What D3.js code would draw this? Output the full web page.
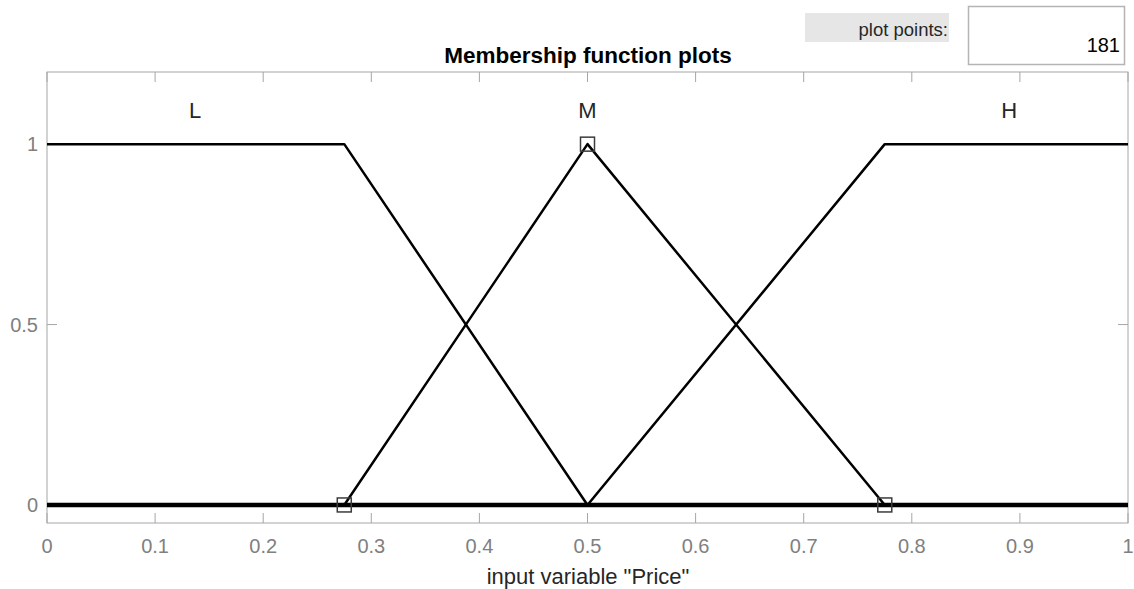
<!DOCTYPE html>
<html><head><meta charset="utf-8">
<script src="https://cdn.jsdelivr.net/npm/d3@7"></script>
<style>body{margin:0;background:#fff;}svg{display:block;font-family:"Liberation Sans",Arial,sans-serif;}</style>
</head><body><svg id="c" width="1134" height="589"></svg>
<script>
const mfNames = ["L", "M", "H"];
const mfLabelX = [0.137, 0.5, 0.89];
const mfX = [[0, 0.275, 0.5, 1], [0, 0.275, 0.5, 0.775, 1], [0, 0.5, 0.775, 1]];
const mfY = [[1, 1, 0, 0], [0, 0, 1, 0, 0], [0, 0, 1, 1]];
const markerX = [0.275, 0.5, 0.775];
const markerY = [0, 1, 0];
const xTicks = [0, 0.1, 0.2, 0.3, 0.4, 0.5, 0.6, 0.7, 0.8, 0.9, 1];
const yTicks = [0, 0.5, 1];
const plotPoints = "181";

const svg = d3.select("#c");
const L = 47, R = 1128, T = 72, B = 523;
const x = d3.scaleLinear().domain([0, 1]).range([L, R]);
const y = d3.scaleLinear().domain([-0.05, 1.2]).range([B, T]);
const axisCol = "#a6a6a6", tickTxt = "#808080";

// top-right controls
svg.append("rect").attr("x", 805).attr("y", 13).attr("width", 144).attr("height", 29).attr("fill", "#e6e6e6");
svg.append("text").attr("x", 948).attr("y", 36).attr("text-anchor", "end").attr("font-size", 18.5).attr("fill", "#262626").text("plot points:");
svg.append("rect").attr("x", 968.5).attr("y", 6.5).attr("width", 156).attr("height", 58).attr("fill", "#fff").attr("stroke", "#b4b4b4").attr("stroke-width", 1.5);
svg.append("text").attr("x", 1120).attr("y", 52).attr("text-anchor", "end").attr("font-size", 20).attr("fill", "#000").text(plotPoints);

// title
svg.append("text").attr("x", 588).attr("y", 63).attr("text-anchor", "middle").attr("font-size", 22.5).attr("font-weight", "bold").attr("fill", "#000").text("Membership function plots");

// axes box
svg.append("rect").attr("x", L).attr("y", T).attr("width", R - L).attr("height", B - T).attr("fill", "none").attr("stroke", axisCol).attr("stroke-width", 1);

const tl = 10;
const gx = svg.append("g");
xTicks.forEach(t => {
  gx.append("line").attr("x1", x(t)).attr("x2", x(t)).attr("y1", B).attr("y2", B - tl).attr("stroke", axisCol);
  gx.append("line").attr("x1", x(t)).attr("x2", x(t)).attr("y1", T).attr("y2", T + tl).attr("stroke", axisCol);
  gx.append("text").attr("x", x(t)).attr("y", 553).attr("text-anchor", "middle").attr("font-size", 20).attr("fill", tickTxt).text(d3.format("")(t));
});
yTicks.forEach(t => {
  gx.append("line").attr("x1", L).attr("x2", L + tl).attr("y1", y(t)).attr("y2", y(t)).attr("stroke", axisCol);
  gx.append("line").attr("x1", R).attr("x2", R - tl).attr("y1", y(t)).attr("y2", y(t)).attr("stroke", axisCol);
  gx.append("text").attr("x", 38).attr("y", y(t) + 7).attr("text-anchor", "end").attr("font-size", 20).attr("fill", tickTxt).text(d3.format("")(t));
});

svg.append("text").attr("x", 588).attr("y", 584).attr("text-anchor", "middle").attr("font-size", 22).attr("fill", "#262626").text('input variable "Price"');

// MF curves
const line = d3.line().x(d => x(d[0])).y(d => y(d[1]));
svg.append("line").attr("x1", x(0)).attr("x2", x(1)).attr("y1", y(0)).attr("y2", y(0)).attr("stroke", "#000").attr("stroke-width", 4.5);
mfX.forEach((xs, i) => {
  const pts = xs.map((v, j) => [v, mfY[i][j]]);
  svg.append("path").attr("d", line(pts)).attr("fill", "none").attr("stroke", "#000").attr("stroke-width", 2.5).attr("stroke-linejoin", "round");
  svg.append("text").attr("x", x(mfLabelX[i])).attr("y", 118).attr("text-anchor", "middle").attr("font-size", 22).attr("fill", "#262626").text(mfNames[i]);
});

// markers
markerX.forEach((v, i) => {
  svg.append("rect").attr("x", x(v) - 7).attr("y", y(markerY[i]) - 7).attr("width", 14).attr("height", 14)
    .attr("fill", "none").attr("stroke", "#3c3c3c").attr("stroke-width", 1.5);
});
</script></body></html>
